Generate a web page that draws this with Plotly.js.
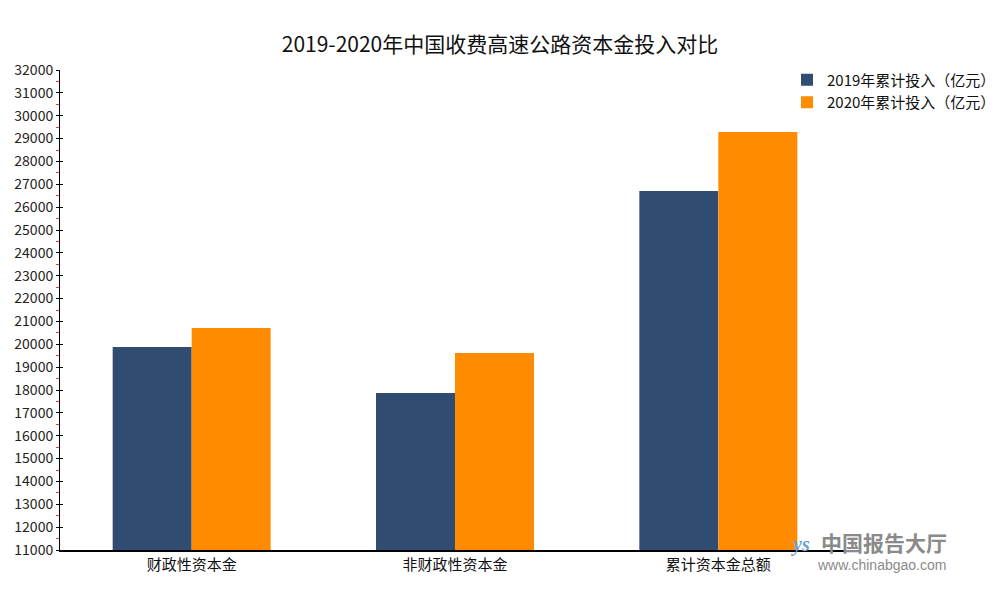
<!DOCTYPE html>
<html>
<head>
<meta charset="utf-8">
<script src="https://cdn.plot.ly/plotly-3.0.1.min.js"></script>
<style>html,body{margin:0;padding:0;background:#fff;}#chart{width:1000px;height:600px;}</style>
</head>
<body>
<div id="chart"></div>
<script>
var categories = ['财政性资本金', '非财政性资本金', '累计资本金总额'];
var values2019 = [19880, 17870, 26710];
var values2020 = [20710, 19620, 29290];
var seriesNames = ['2019年累计投入（亿元）', '2020年累计投入（亿元）'];
var chartTitle = '2019-2020年中国收费高速公路资本金投入对比';
var yRange = [11000, 32000];

var font = '"Noto Sans CJK SC", "Noto Sans", sans-serif';

var traces = [
  {type: 'bar', x: categories, y: values2019, name: seriesNames[0], marker: {color: '#304c71'}},
  {type: 'bar', x: categories, y: values2020, name: seriesNames[1], marker: {color: '#ff8c00'}},
  {type: 'scatter', x: [categories[0]], y: [yRange[0]], yaxis: 'y2', mode: 'markers',
   marker: {opacity: 0}, showlegend: false, hoverinfo: 'skip'}
];

var layout = {
  width: 1000, height: 600,
  margin: {l: 60, r: 150, t: 70, b: 50, autoexpand: false},
  paper_bgcolor: '#fff', plot_bgcolor: '#fff',
  font: {family: font, color: '#222', size: 14},
  title: {text: chartTitle, x: 0.5, xanchor: 'center', y: 0.925, yanchor: 'middle',
          font: {family: font, size: 21, color: '#111'}},
  barmode: 'group', bargap: 0.4, bargroupgap: 0,
  xaxis: {showline: true, linecolor: '#000', linewidth: 1.5, ticks: 'outside', ticklen: 0,
          showgrid: false, zeroline: false, tickfont: {size: 15, color: '#111'}, fixedrange: true,
          automargin: false},
  yaxis: {range: yRange, dtick: 1000, tickformat: 'd', showline: true, linecolor: '#000', linewidth: 1,
          ticks: 'outside', ticklen: 3, tickcolor: '#000', showgrid: false, zeroline: false,
          tickfont: {size: 14, color: '#222'}, automargin: false,
          minor: {ticks: 'outside', dtick: 500, tickcolor: '#ff3030', ticklen: 3}},
  yaxis2: {range: yRange, dtick: 1000, overlaying: 'y', side: 'left', showline: false,
           ticks: 'inside', ticklen: 3, tickcolor: '#000', showticklabels: false,
           showgrid: false, zeroline: false},
  legend: {xref: 'container', yref: 'container', x: 0.787, xanchor: 'left', y: 0.894, yanchor: 'top',
           bgcolor: 'rgba(0,0,0,0)', font: {size: 15, color: '#111'}, itemwidth: 30,
           tracegroupgap: 0},
  annotations: [
    {text: '<b>中国报告大厅</b>', xref: 'paper', yref: 'paper', x: 1.043, y: 0.016, xanchor: 'center',
     yanchor: 'middle', showarrow: false, font: {size: 21, color: '#8a8a8a', family: font}},
    {text: 'www.chinabgao.com', xref: 'paper', yref: 'paper', x: 1.04, y: -0.032, xanchor: 'center',
     yanchor: 'middle', showarrow: false, font: {size: 14, color: '#8a8a8a', family: 'Liberation Sans, Arial, sans-serif'}},
    {text: '<i><b>ys</b></i>', xref: 'paper', yref: 'paper', x: 0.937, y: 0.012, xanchor: 'center',
     yanchor: 'middle', showarrow: false, font: {size: 20, color: '#6f9fc8', family: 'Liberation Serif, serif'}}
  ],
  showlegend: true
};

Plotly.newPlot('chart', traces, layout, {displayModeBar: false, staticPlot: true});
</script>
</body>
</html>
